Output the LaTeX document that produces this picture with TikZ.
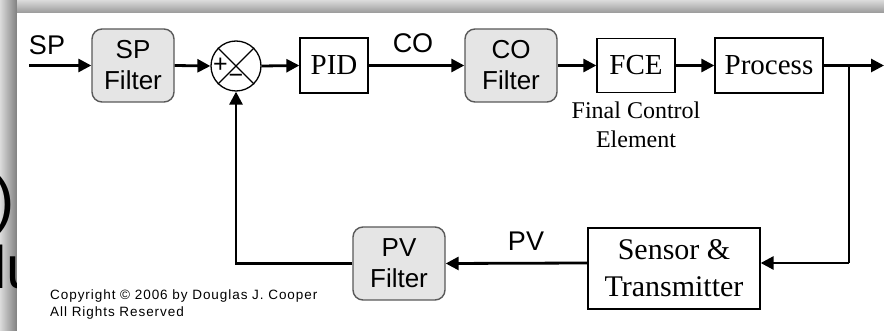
\documentclass[tikz,border=0pt]{standalone}
\usepackage{fontspec}
\setmainfont{Liberation Serif}
\setsansfont{Liberation Sans}
\usetikzlibrary{arrows.meta,calc}
\begin{document}
\begin{tikzpicture}[x=1pt,y=-1pt,
  serifbox/.style={draw, line width=1.3pt, fill=white, inner sep=0pt, align=center,
    font=\fontsize{29}{37}\selectfont},
  filterbox/.style={draw=black!65, fill=black!10, line width=1.4pt, rounded corners=10pt,
    inner sep=0pt, align=center, font=\sffamily\fontsize{26}{31}\selectfont},
  sig/.style={line width=2.8pt, -{Triangle[length=13pt,width=13pt]}},
  wire/.style={line width=2.8pt},
  lbl/.style={font=\sffamily\fontsize{27}{30}\selectfont, inner sep=0pt, anchor=base},
  sumsym/.style={font=\sffamily\fontsize{25}{25}\selectfont, inner sep=0pt}
]
\useasboundingbox (0,0) rectangle (884,331);
% background frame
\fill[black!22] (0,0) rectangle (884,331);
\shade[left color=black!14, right color=black!50] (0,0) rectangle (17,331);
\shade[top color=black!14, bottom color=black!40] (17,0) rectangle (884,13);
% partially hidden slide text
\node[font=\sffamily\fontsize{64}{64}\selectfont, inner sep=0pt, anchor=base east] (paren) at (15,222) {)};
\node[font=\sffamily\fontsize{60}{60}\selectfont, inner sep=0pt, anchor=base west] (lu) at (-7,288) {lu};
% white panel
\fill[white] (17,13) rectangle (884,331);

% blocks
\node[filterbox, minimum width=82pt, minimum height=73pt] (spf) at (133,65.5) {SP\\Filter};
\node[draw, circle, line width=1.3pt, minimum size=50pt, inner sep=0pt] (sum) at (236,66) {};
\draw[line width=1.1pt] (sum.north west) -- (sum.south east);
\draw[line width=1.1pt] (sum.north east) -- (sum.south west);
\node[sumsym] (plus) at (220.5,65) {+};
\node[sumsym] (minus) at (236,78.5) {−};
\node[serifbox, minimum width=68pt, minimum height=55pt] (pid) at (334,65.5) {PID};
\node[filterbox, minimum width=92pt, minimum height=73pt] (cof) at (511,65.5) {CO\\Filter};
\node[serifbox, minimum width=78pt, minimum height=54pt] (fce) at (636,65.5) {FCE};
\node[serifbox, minimum width=108pt, minimum height=55pt] (proc) at (769,65.5) {Process};
\node[serifbox, font=\fontsize{30}{37}\selectfont, minimum width=172pt, minimum height=81pt] (sens) at (674,268.5) {Sensor \&\\Transmitter};
\node[filterbox, minimum width=92pt, minimum height=73pt] (pvf) at (399,263.5) {PV\\Filter};

% labels
\node[lbl] (splbl) at (47,55) {SP};
\node[lbl] (colbl) at (413,53) {CO};
\node[lbl] (pvlbl) at (526,251) {PV};
\node[font=\fontsize{24}{29}\selectfont, inner sep=0pt, anchor=north, align=center] (fcelbl) at (636,102) {Final Control\\Element};
\node[font=\sffamily\fontsize{13.5}{17}\selectfont\addfontfeatures{LetterSpace=7}, inner sep=0pt, anchor=north west, align=left] (copy) at (50,289.5) {Copyright © 2006 by Douglas J. Cooper\\All Rights Reserved};

% connectors
\coordinate (spin) at (29,65.5);
\coordinate (out) at (884,65.5);
\coordinate (br) at (849,65.5);
\coordinate (br2) at (849,263);
\draw[sig] (spin) -- (spf.west);
\draw[sig] (spf.east) -- (sum.west);
\draw[sig] (sum.east) -- (pid.west);
\draw[sig] (pid.east) -- (cof.west);
\draw[sig] (cof.east) -- (fce.west);
\draw[sig] (fce.east) -- (proc.west);
\draw[sig] (proc.east) -- (out);
\draw[wire] (br) -- (br2);
\draw[sig] (br2) -- (sens.east |- br2);
\draw[sig] (sens.west |- br2) -- (pvf.east);
\draw[sig] (pvf.west) -| (sum.south);
\end{tikzpicture}
\end{document}
